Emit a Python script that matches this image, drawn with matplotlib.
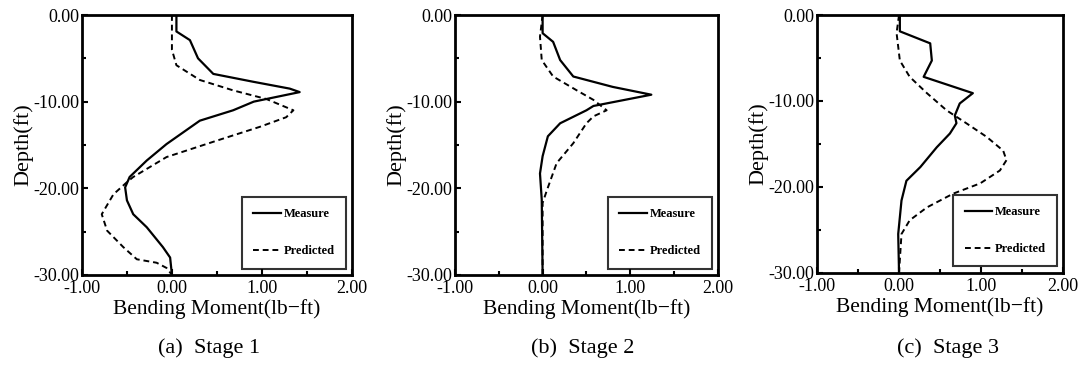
import numpy as np
import matplotlib.pyplot as plt
from matplotlib.ticker import MultipleLocator, FormatStrFormatter

plt.rcParams['font.family'] = ['Liberation Serif', 'DejaVu Serif']
plt.rcParams['axes.unicode_minus'] = True

# Stage 1
a_meas_x = [0.05, 0.05, 0.2, 0.29, 0.46, 0.9, 1.31, 1.42, 0.91, 0.68, 0.31, -0.06, -0.28, -0.47,
            -0.52, -0.5, -0.43, -0.28, -0.1, -0.02, 0.0]
a_meas_y = [0, -1.9, -2.9, -5.0, -6.8, -7.7, -8.5, -8.9, -10.0, -11.0, -12.2, -14.9, -16.8, -18.7,
            -19.9, -21.4, -23.0, -24.5, -26.8, -28.0, -30.0]
a_pred_x = [0.0, 0.0, 0.05, 0.31, 0.68, 1.05, 1.35, 1.27, 0.98, 0.5, -0.06, -0.43, -0.5, -0.65,
            -0.78, -0.72, -0.54, -0.39, -0.17, -0.06, 0.0]
a_pred_y = [0, -4.0, -5.8, -7.5, -8.7, -9.7, -11.0, -11.8, -12.9, -14.5, -16.4, -18.7, -19.3, -20.7,
            -23.0, -24.9, -26.8, -28.2, -28.6, -29.2, -30.0]

# Stage 2
b_meas_x = [0.0, 0.0, 0.12, 0.2, 0.35, 0.8, 1.24, 0.58, 0.5, 0.2, 0.06, 0.0, -0.03, -0.01, 0.0]
b_meas_y = [0, -2.1, -3.1, -5.2, -7.1, -8.3, -9.2, -10.5, -11.0, -12.5, -14.0, -16.3, -18.3, -21.3, -30.0]
b_pred_x = [0.0, -0.03, -0.01, 0.12, 0.39, 0.58, 0.73, 0.58, 0.5, 0.35, 0.16, 0.05, 0.0, 0.0]
b_pred_y = [0, -2.5, -5.2, -7.1, -8.7, -9.8, -11.0, -11.7, -12.5, -14.8, -17.1, -20.2, -21.7, -30.0]

# Stage 3
c_meas_x = [0.01, 0.01, 0.38, 0.4, 0.3, 0.9, 0.74, 0.68, 0.7, 0.62, 0.46, 0.26, 0.09, 0.03, -0.01, 0.0]
c_meas_y = [0, -1.9, -3.3, -5.3, -7.2, -9.1, -10.3, -11.7, -12.6, -13.8, -15.4, -17.7, -19.3, -21.6,
            -25.5, -30.0]
c_pred_x = [0.0, -0.03, 0.01, 0.13, 0.34, 0.58, 0.82, 1.07, 1.27, 1.31, 1.23, 0.99, 0.66, 0.34, 0.13,
            0.03, 0.0]
c_pred_y = [0, -2.1, -5.3, -7.2, -9.1, -11.1, -12.6, -14.2, -15.8, -16.9, -18.1, -19.6, -20.8, -22.4,
            -23.9, -25.5, -30.0]

captions = ['(a)  Stage 1', '(b)  Stage 2', '(c)  Stage 3']
panels = [(a_meas_x, a_meas_y, a_pred_x, a_pred_y),
          (b_meas_x, b_meas_y, b_pred_x, b_pred_y),
          (c_meas_x, c_meas_y, c_pred_x, c_pred_y)]
boxes = [[0.0756, 0.249, 0.249, 0.710],
         [0.4197, 0.249, 0.2426, 0.710],
         [0.7537, 0.255, 0.227, 0.704]]
cap_x = [209, 583, 948]

fig = plt.figure(figsize=(10.84, 3.66), dpi=100)

for box, data, cap, cx in zip(boxes, panels, captions, cap_x):
    ax = fig.add_axes(box)
    mx, my, px, py = data
    ax.plot(mx, my, color='black', lw=1.6, label='Measure')
    ax.plot(px, py, color='black', lw=1.4, ls=(0, (3, 2)), label='Predicted')
    ax.set_xlim(-1, 2)
    ax.set_ylim(-30, 0)
    ax.xaxis.set_major_locator(MultipleLocator(1))
    ax.xaxis.set_minor_locator(MultipleLocator(0.5))
    ax.yaxis.set_major_locator(MultipleLocator(10))
    ax.yaxis.set_minor_locator(MultipleLocator(5))
    ax.xaxis.set_major_formatter(FormatStrFormatter('%.2f'))
    ax.yaxis.set_major_formatter(FormatStrFormatter('%.2f'))
    ax.tick_params(which='both', direction='in', labelsize=13, width=1.5)
    ax.tick_params(axis='x', pad=4)
    ax.tick_params(axis='y', pad=2)
    ax.tick_params(which='major', length=4)
    ax.tick_params(which='minor', length=3)
    for s in ax.spines.values():
        s.set_linewidth(2)
    ax.set_xlabel('Bending Moment(lb\u2212ft)', fontsize=15.5, labelpad=1)
    ax.set_ylabel('Depth(ft)', fontsize=16, labelpad=0)
    leg = ax.legend(loc='lower right', frameon=True, fancybox=False,
                    edgecolor='black', handlelength=2.2, handletextpad=0.2,
                    labelspacing=2.0, borderpad=0.9, prop={'weight': 'bold', 'size': 9})
    leg.get_frame().set_linewidth(1.5)
    fig.text(cx / 1084, 1 - 348 / 366, cap, ha='center', va='center', fontsize=16)

fig.savefig('out.png', dpi=100)
